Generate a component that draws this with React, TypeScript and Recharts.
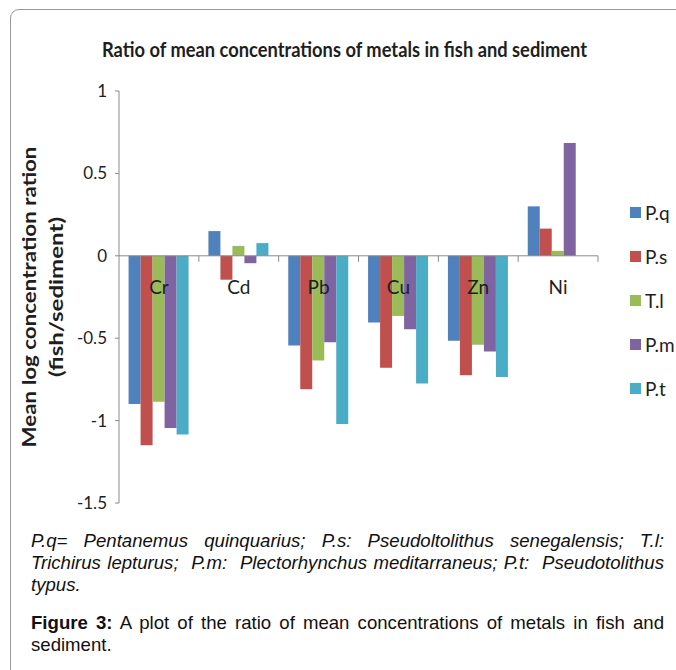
import React from 'react';
import { BarChart, Bar, XAxis, YAxis, Legend, ReferenceLine } from 'recharts';

// metal categories along the x axis
const metals = ['Cr', 'Cd', 'Pb', 'Cu', 'Zn', 'Ni'];

// mean log concentration ratio (fish/sediment) per species
const pq = [-0.9, 0.15, -0.545, -0.405, -0.515, 0.3];
const ps = [-1.15, -0.145, -0.81, -0.68, -0.725, 0.165];
const tl = [-0.885, 0.06, -0.635, -0.365, -0.54, 0.03];
const pm = [-1.045, -0.045, -0.525, -0.445, -0.58, 0.685];
const pt = [-1.085, 0.077, -1.02, -0.775, -0.735, 0];

const seriesNames = ['P.q', 'P.s', 'T.l', 'P.m', 'P.t'];
const seriesValues = [pq, ps, tl, pm, pt];
const seriesColors = ['#4F81BD', '#C0504D', '#9BBB59', '#8064A2', '#4BACC6'];

const yTicks = [1, 0.5, 0, -0.5, -1, -1.5];
const Y_MIN = -1.5;
const Y_MAX = 1;

const data = metals.map((metal, i) => {
  const row: Record<string, string | number> = { metal };
  seriesNames.forEach((name, s) => {
    row[name] = seriesValues[s][i];
  });
  return row;
});

// layout
const W = 676;
const CHART_H = 520;
const PLOT_TOP = 91;
const PLOT_BOTTOM = 503;
const PLOT_LEFT = 119;
const PLOT_RIGHT = 598;
const BAND = (PLOT_RIGHT - PLOT_LEFT) / metals.length;
const ZERO_Y = PLOT_TOP + (Y_MAX / (Y_MAX - Y_MIN)) * (PLOT_BOTTOM - PLOT_TOP);
const AXIS = '#8a8a8a';
const CHART_FONT = 'Lato, "Open Sans", sans-serif';
const TEXT = '#1e1e1e';

// category labels sit just under the zero line, with boundary ticks
const CategoryTick = (props: any) => {
  const { x, payload } = props;
  return (
    <g>
      <line x1={x + BAND / 2} x2={x + BAND / 2} y1={ZERO_Y} y2={ZERO_Y + 6} stroke={AXIS} />
      <text
        x={x}
        y={ZERO_Y + 38}
        textAnchor="middle"
        fontFamily={CHART_FONT}
        fontSize={19}
        fill={TEXT}
      >
        {payload.value}
      </text>
    </g>
  );
};

const YLabel = () => (
  <g fontFamily={CHART_FONT} fontWeight={700} fontSize={19} fill={TEXT}>
    <text
      transform="translate(36, 297) rotate(-90)"
      textAnchor="middle"
      textLength={301}
      lengthAdjust="spacingAndGlyphs"
    >
      Mean log concentration ration
    </text>
    <text
      transform="translate(63, 297) rotate(-90)"
      textAnchor="middle"
      textLength={160}
      lengthAdjust="spacingAndGlyphs"
    >
      (fish/sediment)
    </text>
  </g>
);

const LegendList = (props: any) => {
  const payload = [...(props.payload || [])].sort(
    (a: any, b: any) => seriesNames.indexOf(a.value) - seriesNames.indexOf(b.value)
  );
  return (
    <div style={{ fontFamily: CHART_FONT, fontSize: 19, color: TEXT }}>
      {payload.map((entry: any) => (
        <div
          key={entry.value}
          style={{ display: 'flex', alignItems: 'center', height: 44 }}
        >
          <span
            style={{ width: 11, height: 11, background: entry.color, marginRight: 4, display: 'inline-block' }}
          />
          <span>{entry.value}</span>
        </div>
      ))}
    </div>
  );
};

const lineStyle: React.CSSProperties = {
  height: 22,
  lineHeight: '22px',
  whiteSpace: 'nowrap',
  overflow: 'hidden',
};

export default function App() {
  return (
    <div
      style={{
        position: 'absolute',
        left: 0,
        top: 0,
        width: W,
        height: 670,
        overflow: 'hidden',
        background: '#fff',
      }}
    >
      {/* panel frame */}
      <div
        style={{
          position: 'absolute',
          left: 10,
          top: 9,
          width: 720,
          height: 720,
          border: '1px solid #9a9a9a',
          borderRadius: 9,
        }}
      />

      <svg width={W} height={80} style={{ position: 'absolute', left: 0, top: 0 }}>
        <text
          x={344.5}
          y={57}
          textAnchor="middle"
          fontFamily={CHART_FONT}
          fontWeight={700}
          fontSize={20}
          fill={TEXT}
          textLength={485}
          lengthAdjust="spacingAndGlyphs"
        >
          Ratio of mean concentrations of metals in fish and sediment
        </text>
      </svg>

      <div style={{ position: 'absolute', left: 0, top: 0 }}>
        <BarChart
          width={W}
          height={CHART_H}
          data={data}
          margin={{ top: PLOT_TOP, right: W - PLOT_RIGHT, bottom: 0, left: 0 }}
          barCategoryGap="12%"
          barGap={0}
        >
          <YAxis
            type="number"
            domain={[Y_MIN, Y_MAX]}
            ticks={yTicks}
            interval={0}
            width={PLOT_LEFT}
            stroke={AXIS}
            tickSize={4}
            tickMargin={8}
            tick={{ fill: TEXT, fontSize: 17, fontFamily: CHART_FONT }}
            label={<YLabel />}
          />
          {seriesNames.map((name, s) => (
            <Bar
              key={name}
              dataKey={name}
              name={name}
              fill={seriesColors[s]}
              isAnimationActive={false}
            />
          ))}
          <ReferenceLine y={0} stroke={AXIS} />
          <XAxis
            dataKey="metal"
            height={CHART_H - PLOT_BOTTOM}
            axisLine={false}
            tickLine={false}
            interval={0}
            tick={<CategoryTick />}
          />
          <Legend
            layout="horizontal"
            verticalAlign="middle"
            align="center"
            wrapperStyle={{ position: 'absolute', left: 630, top: 190, width: 60 }}
            content={<LegendList />}
          />
        </BarChart>
      </div>

      {/* caption */}
      <div
        style={{
          position: 'absolute',
          left: 31,
          top: 530,
          width: 633,
          fontFamily: '"Liberation Sans", Arial, sans-serif',
          fontSize: 18.6,
          color: '#111',
        }}
      >
        <div style={{ ...lineStyle, fontStyle: 'italic', textAlign: 'justify', textAlignLast: 'justify' }}>
          P.q= Pentanemus quinquarius; P.s: Pseudoltolithus senegalensis; T.l:
        </div>
        <div style={{ ...lineStyle, fontStyle: 'italic', textAlign: 'justify', textAlignLast: 'justify' }}>
          Trichirus lepturus;&nbsp; P.m:&nbsp; Plectorhynchus meditarraneus; P.t:&nbsp; Pseudotolithus
        </div>
        <div style={{ ...lineStyle, fontStyle: 'italic' }}>typus.</div>
        <div style={{ ...lineStyle, marginTop: 16, textAlign: 'justify', textAlignLast: 'justify' }}>
          <b>Figure 3:</b> A plot of the ratio of mean concentrations of metals in fish and
        </div>
        <div style={lineStyle}>sediment.</div>
      </div>
    </div>
  );
}
